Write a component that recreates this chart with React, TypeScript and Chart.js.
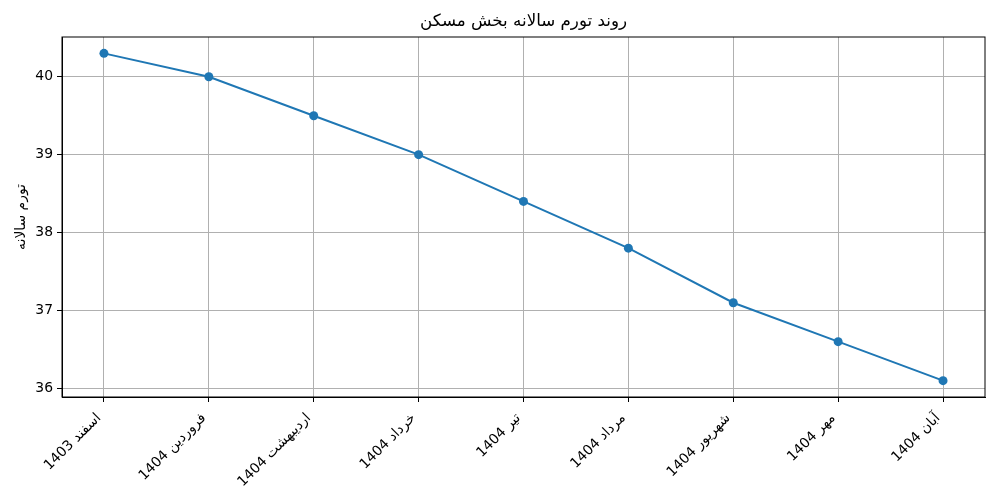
import { useEffect, useRef } from "react"
import { Chart, registerables } from "chart.js"

Chart.register(...registerables)

const months = [
  "اسفند 1403",
  "فروردین 1404",
  "اردیبهشت 1404",
  "خرداد 1404",
  "تیر 1404",
  "مرداد 1404",
  "شهریور 1404",
  "مهر 1404",
  "آبان 1404",
]
const inflation = [40.3, 40.0, 39.5, 39.0, 38.4, 37.8, 37.1, 36.6, 36.1]
const yTicks = [36, 37, 38, 39, 40]

const chartTitle = "روند تورم سالانه بخش مسکن"
const yTitle = "تورم سالانه"

const FONT = "'DejaVu Sans', sans-serif"
const BLUE = "#1f77b4"
const GRID = "#b0b0b0"

export default function App() {
  const chartRef = useRef<HTMLCanvasElement>(null)
  const chartInstance = useRef<Chart | null>(null)

  useEffect(() => {
    document.body.style.margin = "0"
    if (!chartRef.current) return
    if (chartInstance.current) chartInstance.current.destroy()

    // matplotlib 스타일 여백 (데이터 범위의 5%)
    const yLo = Math.min(...inflation)
    const yHi = Math.max(...inflation)
    const yPad = (yHi - yLo) * 0.05
    const xPad = (months.length - 1) * 0.05

    const ctx = chartRef.current.getContext("2d")
    if (!ctx) return
    chartInstance.current = new Chart(ctx, {
      type: "line",
      data: {
        datasets: [
          {
            data: inflation.map((v, i) => ({ x: i, y: v })),
            borderColor: BLUE,
            backgroundColor: BLUE,
            borderWidth: 2,
            pointRadius: 4.5,
            pointBorderWidth: 0,
            pointBackgroundColor: BLUE,
            tension: 0,
          },
        ],
      },
      options: {
        responsive: false,
        animation: false,
        layout: { padding: { left: 0, right: 15, top: 37, bottom: 0 } },
        plugins: {
          legend: { display: false },
          tooltip: { enabled: false },
          title: { display: false },
        },
        scales: {
          x: {
            type: "linear",
            min: -xPad,
            max: months.length - 1 + xPad,
            afterBuildTicks: (axis) => {
              axis.ticks = months.map((_, i) => ({ value: i }))
            },
            afterFit: (axis) => {
              axis.height = 103
            },
            ticks: {
              autoSkip: false,
              maxRotation: 45,
              minRotation: 45,
              color: "#000",
              padding: 8,
              labelOffset: -5,
              font: { family: FONT, size: 13.9 },
              callback: (v) => months[Number(v)] ?? "",
            },
            grid: { color: GRID, tickColor: "#000", tickLength: 5, lineWidth: 1 },
            border: { color: "#000", width: 1 },
          },
          y: {
            min: yLo - yPad,
            max: yHi + yPad,
            afterBuildTicks: (axis) => {
              axis.ticks = yTicks.map((v) => ({ value: v }))
            },
            afterFit: (axis) => {
              axis.width = 62
            },
            ticks: {
              color: "#000",
              padding: 4,
              font: { family: FONT, size: 13.9 },
              callback: (v) => String(v),
            },
            title: {
              display: true,
              text: yTitle,
              color: "#000",
              font: { family: FONT, size: 13.9 },
              padding: { top: 13, bottom: 0 },
            },
            grid: { color: GRID, tickColor: "#000", tickLength: 5, lineWidth: 1 },
            border: { color: "#000", width: 1 },
          },
        },
      },
      plugins: [
        {
          id: "frameAndTitle",
          afterDatasetsDraw: (chart) => {
            const { ctx: c, chartArea: a } = chart
            c.save()
            c.strokeStyle = "#000"
            c.lineWidth = 1
            c.strokeRect(a.left, a.top, a.right - a.left, a.bottom - a.top)
            // 제목은 플롯 영역 중앙에
            c.fillStyle = "#000"
            c.font = `16.7px ${FONT}`
            c.textAlign = "center"
            c.textBaseline = "middle"
            c.fillText(chartTitle, (a.left + a.right) / 2, 22)
            c.restore()
          },
        },
      ],
    })

    return () => {
      if (chartInstance.current) {
        chartInstance.current.destroy()
        chartInstance.current = null
      }
    }
  }, [])

  return (
    <div style={{ width: "1000px", height: "500px" }}>
      <canvas ref={chartRef} width={1000} height={500} />
    </div>
  )
}
